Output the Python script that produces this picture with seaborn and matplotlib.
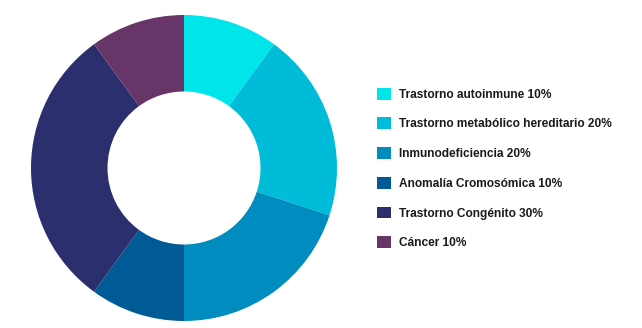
import matplotlib
matplotlib.use("Agg")
import matplotlib.pyplot as plt
import seaborn as sns

categories = [
    "Trastorno autoinmune",
    "Trastorno metabólico hereditario",
    "Inmunodeficiencia",
    "Anomalía Cromosómica",
    "Trastorno Congénito",
    "Cáncer",
]
shares = [10, 20, 20, 10, 30, 10]
colors = ["#00E5EA", "#00BCD8", "#008CBF", "#005A96", "#2B2F6D", "#673567"]

sns.set_theme(style="white")
plt.rcParams["font.family"] = ["Liberation Sans", "DejaVu Sans"]

W, H = 642, 328
fig = plt.figure(figsize=(W / 100, H / 100), dpi=100)
fig.patch.set_facecolor("white")

cx, cy, r = 184, 168, 153
ax = fig.add_axes([(cx - r) / W, (H - cy - r) / H, 2 * r / W, 2 * r / H])
wedges, _ = ax.pie(
    shares,
    colors=sns.color_palette(colors),
    startangle=90,
    counterclock=False,
    radius=1,
    wedgeprops=dict(width=0.5, linewidth=0),
)
ax.set_xlim(-1, 1)
ax.set_ylim(-1, 1)
ax.set_aspect("equal")
ax.axis("off")

labels = [f"{c} {v}%" for c, v in zip(categories, shares)]
leg = fig.legend(
    wedges,
    labels,
    loc="upper left",
    bbox_to_anchor=(372 / W, 1 - 83 / H),
    frameon=False,
    handlelength=1.15,
    handleheight=1.15,
    handletextpad=0.75,
    labelspacing=1.40,
    borderaxespad=0,
    prop=dict(size=8.6, weight="bold"),
)
for t in leg.get_texts():
    t.set_color("#1a1a1a")

fig.savefig("out.png", dpi=100, facecolor="white")
